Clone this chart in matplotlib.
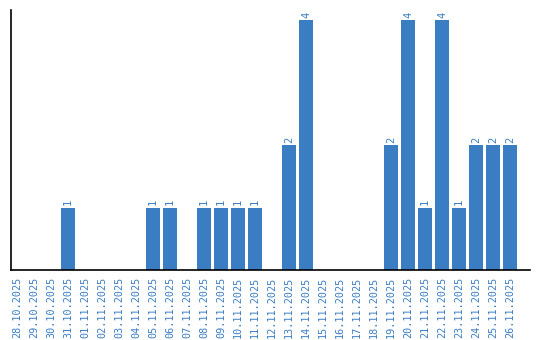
import matplotlib
matplotlib.use("Agg")
import matplotlib.pyplot as plt
import pandas as pd

dates = pd.date_range("2025-10-28", "2025-11-26", freq="D")
labels = [d.strftime("%d.%m.%Y") for d in dates]
counts = [0, 0, 0, 1, 0, 0, 0, 0, 1, 1, 0, 1, 1, 1, 1, 0, 2, 4,
          0, 0, 0, 0, 2, 4, 1, 4, 1, 2, 2, 2]

blue = "#3b7dc2"
plt.rcParams["font.family"] = "DejaVu Sans Mono"

fig = plt.figure(figsize=(5.4, 3.4), dpi=100)
ax = fig.add_axes([11 / 540, 70 / 340, 519 / 540, 260 / 340])

x = list(range(len(labels)))
bars = ax.bar(x, counts, width=0.82, color=blue)
for xi, v in zip(x, counts):
    if v > 0:
        ax.text(xi, v + 0.04, str(v), rotation=90, ha="center", va="bottom",
                color=blue, fontsize=7.5)

ax.set_xlim(-0.35, 30.18)
ax.set_ylim(0, 4.16)
ax.set_xticks(x)
ax.set_xticklabels(labels, rotation=90, color=blue, fontsize=7.3)
ax.set_yticks([])
ax.tick_params(axis="x", length=0, pad=4.5)
for s in ["top", "right"]:
    ax.spines[s].set_visible(False)
ax.spines["left"].set_linewidth(1.2)
ax.spines["bottom"].set_linewidth(1.2)

fig.savefig("out.png", dpi=100)
